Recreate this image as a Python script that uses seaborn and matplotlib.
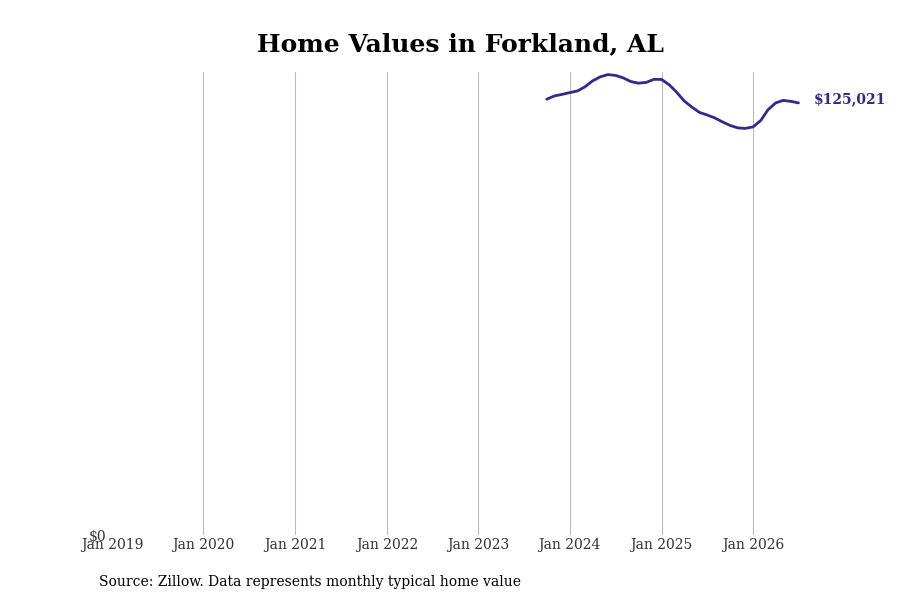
import numpy as np
import pandas as pd
import seaborn as sns
import matplotlib.pyplot as plt
import matplotlib.dates as mdates
from matplotlib.ticker import FixedLocator, FuncFormatter

# monthly typical home value, Oct 2023 - Jul 2026
months = pd.date_range('2023-10-01', '2026-07-01', freq='MS')
values = [126092, 127047, 127481, 128002, 128494, 129651, 131388, 132545,
          133211, 132980, 132256, 131185, 130722, 130954, 131822, 131822,
          130230, 128204, 125600, 123863, 122272, 121548, 120680, 119522,
          118509, 117786, 117641, 118075, 119956, 122995, 125021, 125745,
          125456, 125021]
tick_years = list(range(2019, 2027))

df = pd.DataFrame({'date': months, 'value': values})

sns.set_theme(style='white')
plt.rcParams['font.family'] = ['DejaVu Serif']

fig = plt.figure(figsize=(9, 6), dpi=100)
ax = fig.add_axes([0.1244, 0.1083, 0.7767, 0.772])

line_color = '#2e2a8f'
sns.lineplot(x='date', y='value', data=df, color=line_color, linewidth=2, ax=ax)

ax.set_xlim(pd.Timestamp('2019-01-01'), pd.Timestamp('2026-08-20'))
ax.set_ylim(0, max(values) * 1.006)

ax.xaxis.set_major_locator(FixedLocator([mdates.date2num(pd.Timestamp(f'{y}-01-01')) for y in tick_years]))
ax.xaxis.set_major_formatter(mdates.DateFormatter('Jan %Y'))
ax.yaxis.set_major_locator(FixedLocator([0]))
ax.yaxis.set_major_formatter(FuncFormatter(lambda v, p: f'${v:,.0f}'))

ax.grid(True, axis='x', color='#bbbbbb', linewidth=0.8)
ax.grid(False, axis='y')
fig.canvas.draw()
ax.xaxis.get_gridlines()[0].set_visible(False)  # no line at the left edge
for s in ax.spines.values():
    s.set_visible(False)
ax.tick_params(axis='both', length=0, labelsize=10, labelcolor='#333333')
ax.tick_params(axis='x', pad=2)
ax.tick_params(axis='y', pad=4)
ax.set_xlabel('')
ax.set_ylabel('')

ax.annotate(f'${values[-1]:,}', xy=(df['date'].iloc[-1], values[-1]),
            xytext=(11, 3), textcoords='offset points', va='center', ha='left',
            fontsize=10, fontweight='bold', color=line_color, annotation_clip=False)

fig.text(0.512, 0.926, 'Home Values in Forkland, AL', ha='center', va='center',
         fontsize=18, fontweight='bold', color='black')
fig.text(0.11, 0.03, 'Source: Zillow. Data represents monthly typical home value',
         ha='left', va='center', fontsize=10, color='black')

plt.savefig('out.png', dpi=100)
